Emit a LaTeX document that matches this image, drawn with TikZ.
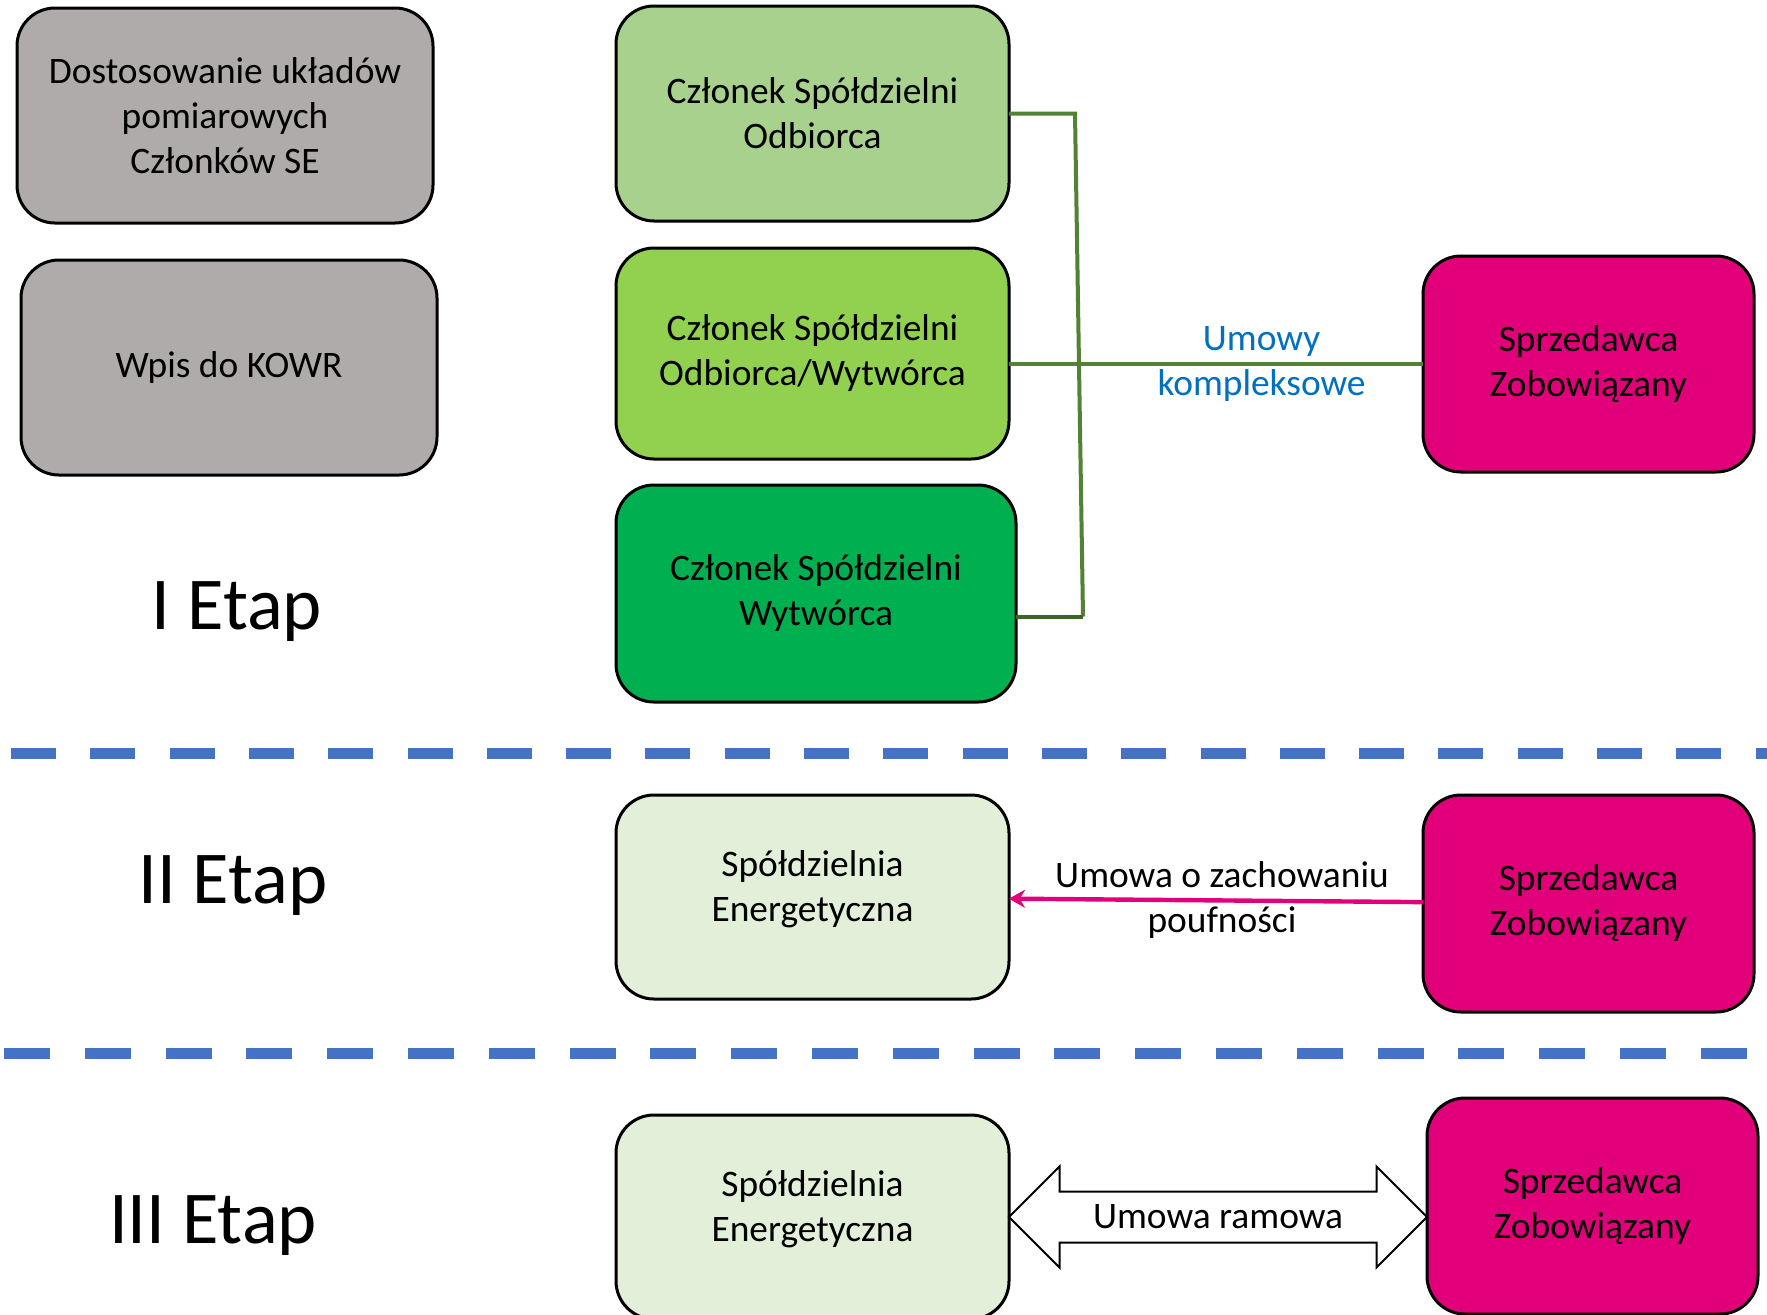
\documentclass[tikz,border=0pt]{standalone}
\usepackage{fontspec}
\setmainfont{Carlito}
\usetikzlibrary{arrows.meta,calc,positioning,shapes.arrows}
\newdimen\px
\px=0.5pt
\definecolor{szary}{HTML}{AFABAB}
\definecolor{odbiorca}{HTML}{A9D18E}
\definecolor{prosument}{HTML}{92D050}
\definecolor{wytworca}{HTML}{00B050}
\definecolor{spoldzielnia}{HTML}{E2F0D9}
\definecolor{sprzedawca}{HTML}{E2007A}
\definecolor{linia}{HTML}{548235}
\definecolor{liniaciemna}{HTML}{3F6428}
\definecolor{przerywana}{HTML}{4472C4}
\definecolor{niebieski}{HTML}{0070C0}
\tikzstyle{element}=[
  draw=black,
  font={\fontsize{18.7pt}{22.5pt}\selectfont},
  align=center,
  inner sep=0pt,
  outer sep=0pt,
  rectangle,
  rounded corners=19pt,
  line width=1.5pt,
]
\tikzstyle{czlonek}=[
  element,
  minimum width=393\px,
]
\tikzstyle{spoldz}=[
  czlonek,
  fill=spoldzielnia,
  minimum height=204\px,
  text depth=11pt,
]
\tikzstyle{seller}=[
  element,
  fill=sprzedawca,
  minimum width=331\px,
  minimum height=216\px,
]
\tikzstyle{etap}=[
  font={\fontsize{37.3pt}{44pt}\selectfont},
  anchor=base,
  inner sep=0pt,
]
\tikzstyle{granica}=[
  draw=przerywana,
  line width=5.5pt,
]
\tikzstyle{umowa}=[
  draw=linia,
  line width=2pt,
]
\tikzstyle{poufnosc}=[
  draw=sprzedawca,
  line width=2.2pt,
  -{Stealth[length=8pt,width=9pt]},
]
\tikzstyle{arrowlabel}=[
  font={\fontsize{18.7pt}{22.5pt}\selectfont},
  align=center,
  inner sep=0pt,
]
\tikzstyle{ramowa}=[
  double arrow,
  draw=black,
  fill=white,
  line width=1pt,
  font={\fontsize{18.7pt}{22.5pt}\selectfont},
  text height=11.6pt,
  text depth=0pt,
  inner xsep=0pt,
  inner ysep=6.45pt,
  double arrow head extend=12.5pt,
  minimum height=209pt,
]

\begin{document}
\begin{tikzpicture}[x=0.5pt,y=-0.5pt]
  \useasboundingbox (0,0) rectangle (1767,1314);
  \clip (0,0) rectangle (1767,1314);
  \fill [white] (0,0) rectangle (1767,1314);
  %% I Etap
  \node (dost) [element, fill=szary, minimum width=416\px, minimum height=215\px]
    at (225,115.5) {Dostosowanie układów\\pomiarowych\\Członków SE};
  \node (wpis) [element, fill=szary, minimum width=416\px, minimum height=215\px]
    at (229,367.5) {Wpis do KOWR};
  \node (etap1) [etap] at (237,629) {I Etap};
  \node (m1) [czlonek, fill=odbiorca, minimum height=215\px]
    at (812.5,113.5) {Członek Spółdzielni\\Odbiorca};
  \node (m2) [czlonek, fill=prosument, minimum height=211\px, below=27\px of m1]
    {Członek Spółdzielni\\Odbiorca/Wytwórca};
  \node (m3) [czlonek, fill=wytworca, minimum width=400\px, minimum height=217\px,
    below=26\px of m2.south west, anchor=north west] {Członek Spółdzielni\\Wytwórca};
  \node (sp1) [seller] at (1588.5,364) {Sprzedawca\\Zobowiązany};
  %%
  \coordinate (b1) at ($(m1.east)+(66,0)$);
  \coordinate (b2) at ($(m3.east)+(67,23)$);
  \draw [umowa] (m1.east) -- (b1) -- (b2);
  \draw [umowa, draw=liniaciemna] (b2) -- (m3.east|-b2);
  \draw [umowa] (m2.east|-sp1.west)
    -- node [arrowlabel, pos=.61, text=niebieski] {Umowy\\kompleksowe} (sp1.west);
  %% granice etapow
  \draw [granica, dash pattern=on 22.5pt off 17.15pt] (11,753) -- (1767,753);
  \draw [granica, dash pattern=on 23pt off 17.4pt] (4,1053) -- (1747,1053);
  %% II Etap
  \node (etap2) [etap] at (233,903) {II Etap};
  \node (spol2) [spoldz] at (812.5,897) {Spółdzielnia\\Energetyczna};
  \node (sp2) [seller, minimum height=217\px] at (1588.5,903.5) {Sprzedawca\\Zobowiązany};
  \draw [poufnosc] (sp2) -- node [arrowlabel, xshift=6\px] {Umowa o zachowaniu\\poufności} (spol2);
  %% III Etap
  \node (etap3) [etap] at (213,1243) {III Etap};
  \node (spol3) [spoldz] at (812.5,1217) {Spółdzielnia\\Energetyczna};
  \node (sp3) [seller] at (1592.5,1206) {Sprzedawca\\Zobowiązany};
  \node (ram) [ramowa] at ($(spol3.east)!.5!(spol3.east-|sp3.west)$) {Umowa ramowa};
\end{tikzpicture}
\end{document}
